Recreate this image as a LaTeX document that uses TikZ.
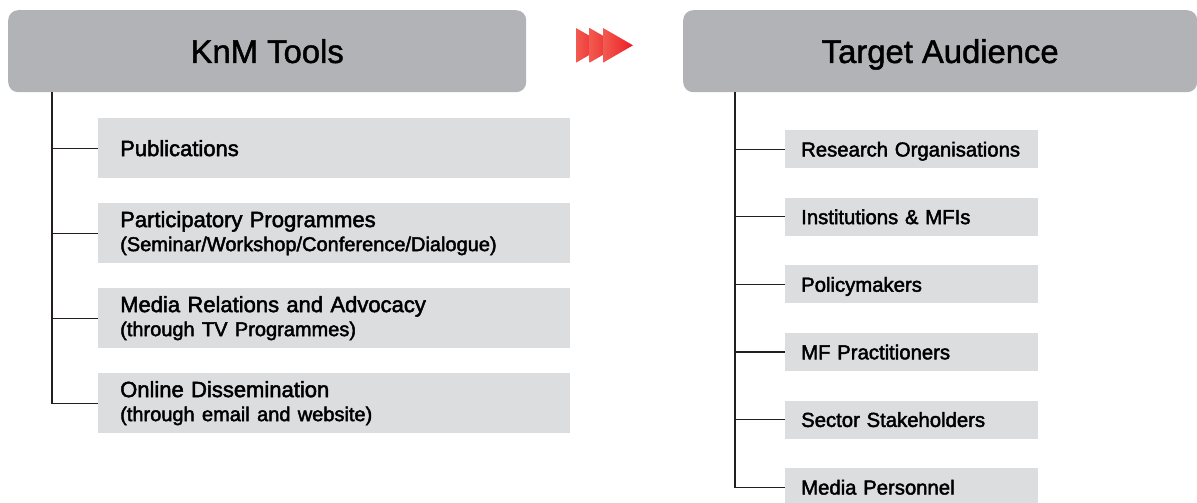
\documentclass[tikz,border=0pt]{standalone}
\usepackage{fontspec}
\setmainfont{Liberation Sans}
\newfontfamily\boxfont{Liberation Sans}[FakeBold=2.2]
\newfontfamily\headfont{Liberation Sans}[FakeBold=1.4]

\definecolor{headgray}{HTML}{B1B3B6}
\definecolor{boxgray}{HTML}{DCDDDF}
\definecolor{linegray}{HTML}{231F20}
\definecolor{arrowred}{HTML}{ED1C24}
\definecolor{arrowpink}{HTML}{F15A50}

\newcommand{\subline}{\fontsize{20}{24}\selectfont}

\begin{document}
\begin{tikzpicture}[x=1pt,y=-1pt]

      \useasboundingbox (0,0) rectangle (1197,503);

      \begin{scope}[every node/.style={fill=headgray, rounded corners=10pt, anchor=north west,
          minimum height=82pt, inner sep=0pt, text height=23.5pt, text depth=0pt,
          font=\headfont\fontsize{32.8}{38}\selectfont}]
        \node[minimum width=518pt] (knm) at (8,10)   {KnM Tools};
        \node[minimum width=514pt] (aud) at (683,10) {Target Audience};
      \end{scope}

      \shade[left color=arrowpink, middle color=arrowred, right color=arrowred] (576,28) -- (606,45.3) -- (576,62.7) -- cycle;
      \shade[left color=arrowpink, middle color=arrowred, right color=arrowred] (589.5,28) -- (619.5,45.3) -- (589.5,62.7) -- cycle;
      \shade[left color=arrowpink, middle color=arrowred, right color=arrowred] (603,28) -- (633,45.3) -- (603,62.7) -- cycle;

      \begin{scope}[every node/.style={fill=boxgray, anchor=north west, minimum height=60pt,
          text width=428pt, inner xsep=22pt, inner ysep=0pt, align=left,
          font=\boxfont\fontsize{22}{24}\selectfont}]
        \node (pub) at (98,118) {Publications};
        \node (par) at (98,203) {Participatory Programmes\\\subline(Seminar/Workshop/Conference/Dialogue)};
        \node (med) at (98,288) {Media Relations and Advocacy\\\subline(through TV Programmes)};
        \node (onl) at (98,373) {Online Dissemination\\\subline(through email and website)};
      \end{scope}

      \begin{scope}[every node/.style={fill=boxgray, anchor=north west, minimum height=38pt,
          text width=221pt, inner xsep=16pt, inner ysep=0pt, align=left, text height=14.6pt,
          text depth=0pt, font=\boxfont\fontsize{20.3}{24}\selectfont}]
        \node (res) at (785,130)   {Research Organisations};
        \node (ins) at (785,197.6) {Institutions \& MFIs};
        \node (pol) at (785,265.2) {Policymakers};
        \node (pra) at (785,332.8) {MF Practitioners};
        \node (sec) at (785,400.4) {Sector Stakeholders};
        \node (per) at (785,468)   {Media Personnel};
      \end{scope}

      \coordinate (ltop) at (52,92);
      \coordinate (rtop) at (735,92);

      \begin{scope}[every path/.style={draw=linegray, line width=1.2pt}]
        \path (ltop) |- (onl.west);
        \path (pub.west -| ltop) -- (pub.west);
        \path (par.west -| ltop) -- (par.west);
        \path (med.west -| ltop) -- (med.west);

        \path (rtop) |- (per.west);
        \path (res.west -| rtop) -- (res.west);
        \path (ins.west -| rtop) -- (ins.west);
        \path (pol.west -| rtop) -- (pol.west);
        \path (pra.west -| rtop) -- (pra.west);
        \path (sec.west -| rtop) -- (sec.west);
      \end{scope}

    \end{tikzpicture}
\end{document}
